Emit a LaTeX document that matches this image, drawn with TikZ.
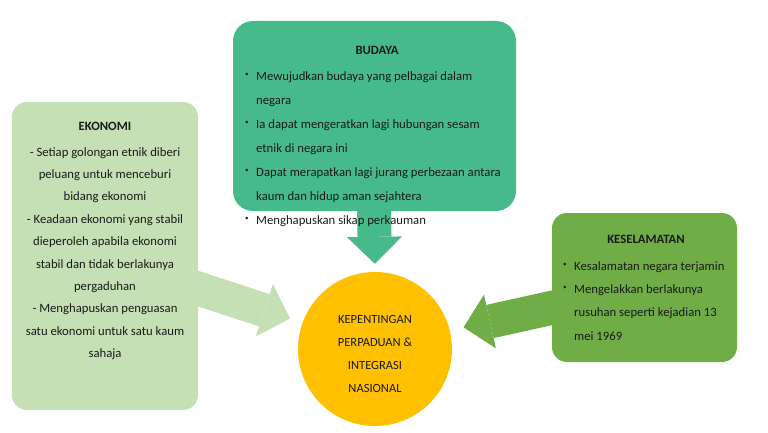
\documentclass[tikz,border=0pt]{standalone}
\usepackage{fontspec}
\setmainfont{Carlito}
\usetikzlibrary{arrows.meta}
\definecolor{budaya}{HTML}{47BA8B}
\definecolor{hijaumuda}{HTML}{C5E0B4}
\definecolor{hijau}{HTML}{70AD47}
\definecolor{kuning}{HTML}{FFC000}
\definecolor{dakwat}{HTML}{1A1A1A}
\newcommand\titik{\makebox[11pt][l]{\raisebox{3.5pt}{\fontsize{7}{7}\selectfont\textbullet}}}
\newcommand\sela{\hspace*{11pt}}

\begin{document}
\begin{tikzpicture}[x=1pt, y=-1pt,
  kotak/.style = {rounded corners=15pt, inner sep=0},
  teks/.style = {font=\fontsize{12.7}{24}\selectfont, inner sep=0, text=dakwat},
  judul/.style = {font=\bfseries\fontsize{12.7}{14}\selectfont, inner sep=0, text=dakwat},
  panah/.style = {line width=34pt, -{Triangle[length=27pt, width=55pt, line width=0pt]}}]
	\useasboundingbox (0,0) rectangle (768,433);
	\coordinate (atas) at (374,200);
	\coordinate (kiri) at (190,286);
	\coordinate (kanan) at (560,306);
	\node[circle, fill=kuning, minimum size=154pt, inner sep=0] (pusat) at (375,349) {};
	\draw[panah, draw=budaya, shorten >=8pt] (atas) -- (pusat.north);
	\draw[panah, draw=hijaumuda, shorten >=13pt] (kiri) -- (pusat.160);
	\draw[panah, draw=hijau, shorten >=14pt] (kanan) -- (pusat.14);
	\node[kotak, fill=hijaumuda, minimum width=186pt, minimum height=308pt] (eko) at (105,256) {};
	\node[kotak, fill=budaya, rounded corners=20pt, minimum width=283pt, minimum height=190pt] (bud) at (374.5,116) {};
	\node[kotak, fill=hijau, minimum width=185pt, minimum height=149pt] (kes) at (644.5,287.5) {};
	% budaya
	\node[judul] (judbud) at (377,50) {BUDAYA};
	\node[teks, align=left, anchor=north west] (isibud) at (245,71) {\titik Mewujudkan budaya yang pelbagai dalam\\ \sela negara\\
	  \titik Ia dapat mengeratkan lagi hubungan sesam\\ \sela etnik di negara ini\\
	  \titik Dapat merapatkan lagi jurang perbezaan antara\\ \sela kaum dan hidup aman sejahtera\\
	  \titik Menghapuskan sikap perkauman};
	% ekonomi
	\node[judul] (judeko) at (105,126) {EKONOMI};
	\node[teks, align=center, anchor=north, font=\fontsize{12.7}{22.4}\selectfont] (isieko) at (105,147) {- Setiap golongan etnik diberi\\ peluang untuk menceburi\\ bidang ekonomi\\
	  - Keadaan ekonomi yang stabil\\ dieperoleh apabila ekonomi\\ stabil dan tidak berlakunya\\ pergaduhan\\
	  - Menghapuskan penguasan\\ satu ekonomi untuk satu kaum\\ sahaja};
	% keselamatan
	\node[judul] (judkes) at (646,239) {KESELAMATAN};
	\node[teks, align=left, anchor=north west, font=\fontsize{12.7}{23.4}\selectfont] (isikes) at (563,261) {\titik Kesalamatan negara terjamin\\
	  \titik Mengelakkan berlakunya\\ \sela rusuhan seperti kejadian 13\\ \sela mei 1969};
	% pusat
	\node[teks, align=center, font=\fontsize{12.5}{23}\selectfont] (judpusat) at (375,354) {KEPENTINGAN\\ PERPADUAN \&\\ INTEGRASI\\ NASIONAL};
\end{tikzpicture}
\end{document}
